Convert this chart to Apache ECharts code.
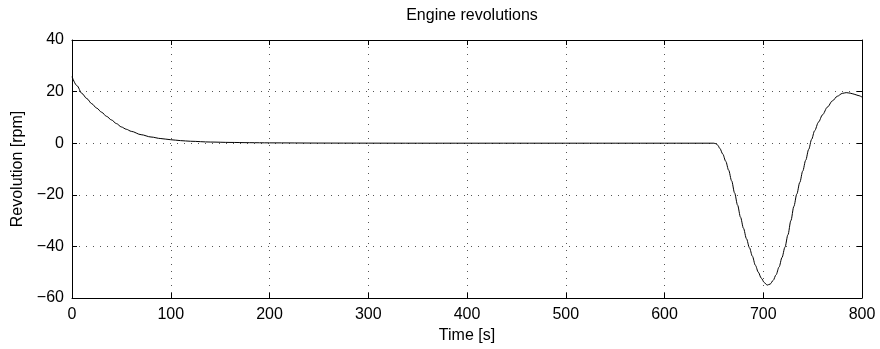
<!DOCTYPE html>
<html>
<head>
<meta charset="utf-8">
<script src="https://cdn.jsdelivr.net/npm/echarts@6/dist/echarts.min.js"></script>
<style>
  html, body { margin: 0; padding: 0; background: #fff; }
  #chart { width: 880px; height: 349px; }
</style>
</head>
<body>
<div id="chart"></div>
<script>
// Engine speed deviation over time
const timeS = [
  0, 5, 10, 15, 20, 25, 30, 35, 40, 45, 50, 55, 60, 70, 80, 90, 100, 110, 120, 140, 160, 180, 200, 250, 300, 350, 400, 500, 600,
  650, 652, 654, 656, 659, 662, 665, 668, 671, 674, 677, 680, 683, 686, 689, 692, 695, 698, 701, 704,
  707, 710, 713, 716, 719, 722, 725, 728, 731, 734, 737, 740, 743, 746, 749, 752, 756, 760, 765, 770, 775, 780, 784, 788, 792, 796, 800
];
const revolutionRpm = [
  25.8, 22.3, 19.3, 17.3, 15.3, 13.6, 12.0, 10.4, 9.0, 7.6, 6.3, 5.4, 4.6, 3.3, 2.4, 1.8, 1.35, 1.0, 0.75, 0.45, 0.3, 0.2, 0.13, 0.05, 0.02, 0, 0, 0, 0,
  0, -0.2, -0.8, -2.0, -4.2, -7.0, -10.5, -14.6, -19.3, -24.0, -28.7, -33.0, -37.0, -40.5, -43.8, -47.3, -50.0, -52.3, -54.0, -55.0,
  -54.6, -53.2, -51.0, -48.0, -44.3, -40.3, -35.5, -30.0, -24.5, -19.7, -15.2, -10.8, -6.6, -2.4, 1.5, 4.8, 8.2, 11.0, 14.0, 16.4, 18.2, 19.3, 19.6, 19.4, 19.0, 18.5, 17.9
];
const xTicks = { min: 0, max: 800, interval: 100 };
const yTicks = { min: -60, max: 40, interval: 20 };

const font = '"Liberation Sans", Arial, Helvetica, sans-serif';
const gridLine = { show: true, lineStyle: { color: '#555', width: 1, type: [1, 6] } };
const frameLine = { show: true, onZero: false, lineStyle: { color: '#000', width: 1 } };
const innerTick = { show: true, inside: true, length: 5, lineStyle: { color: '#000', width: 1 } };
const textStyle = { fontFamily: font, fontSize: 16, color: '#000' };
// typographic minus for negative tick values
const signed = v => (v < 0 ? '\u2212' + Math.abs(v) : String(v));

const chart = echarts.init(document.getElementById('chart'));
chart.setOption({
  animation: false,
  backgroundColor: '#fff',
  title: {
    text: 'Engine revolutions',
    left: 467, top: 3, textAlign: 'center',
    textStyle: { ...textStyle, fontWeight: 'normal' }
  },
  grid: { left: 72, right: 18, top: 40, bottom: 51, outerBoundsMode: 'none' },
  xAxis: [
    {
      type: 'value', position: 'bottom', ...xTicks,
      name: 'Time [s]', nameLocation: 'middle', nameGap: 27,
      nameTextStyle: textStyle,
      axisLine: frameLine, axisTick: innerTick, splitLine: gridLine,
      axisLabel: { ...textStyle, margin: 9 }
    },
    {
      type: 'value', position: 'top', ...xTicks,
      axisLine: frameLine, axisTick: innerTick,
      splitLine: { show: false }, axisLabel: { show: false }
    }
  ],
  yAxis: [
    {
      type: 'value', position: 'left', ...yTicks,
      name: 'Revolution [rpm]', nameLocation: 'middle', nameGap: 44,
      nameTextStyle: textStyle,
      axisLine: frameLine, axisTick: innerTick, splitLine: gridLine,
      axisLabel: { ...textStyle, margin: 8, formatter: signed }
    },
    {
      type: 'value', position: 'right', ...yTicks,
      axisLine: frameLine, axisTick: innerTick,
      splitLine: { show: false }, axisLabel: { show: false }
    }
  ],
  series: [{
    type: 'line',
    data: timeS.map((t, i) => [t, revolutionRpm[i]]),
    smooth: 0.3,
    smoothMonotone: 'x',
    showSymbol: false,
    lineStyle: { color: '#000', width: 1 }
  }]
});
</script>
</body>
</html>
